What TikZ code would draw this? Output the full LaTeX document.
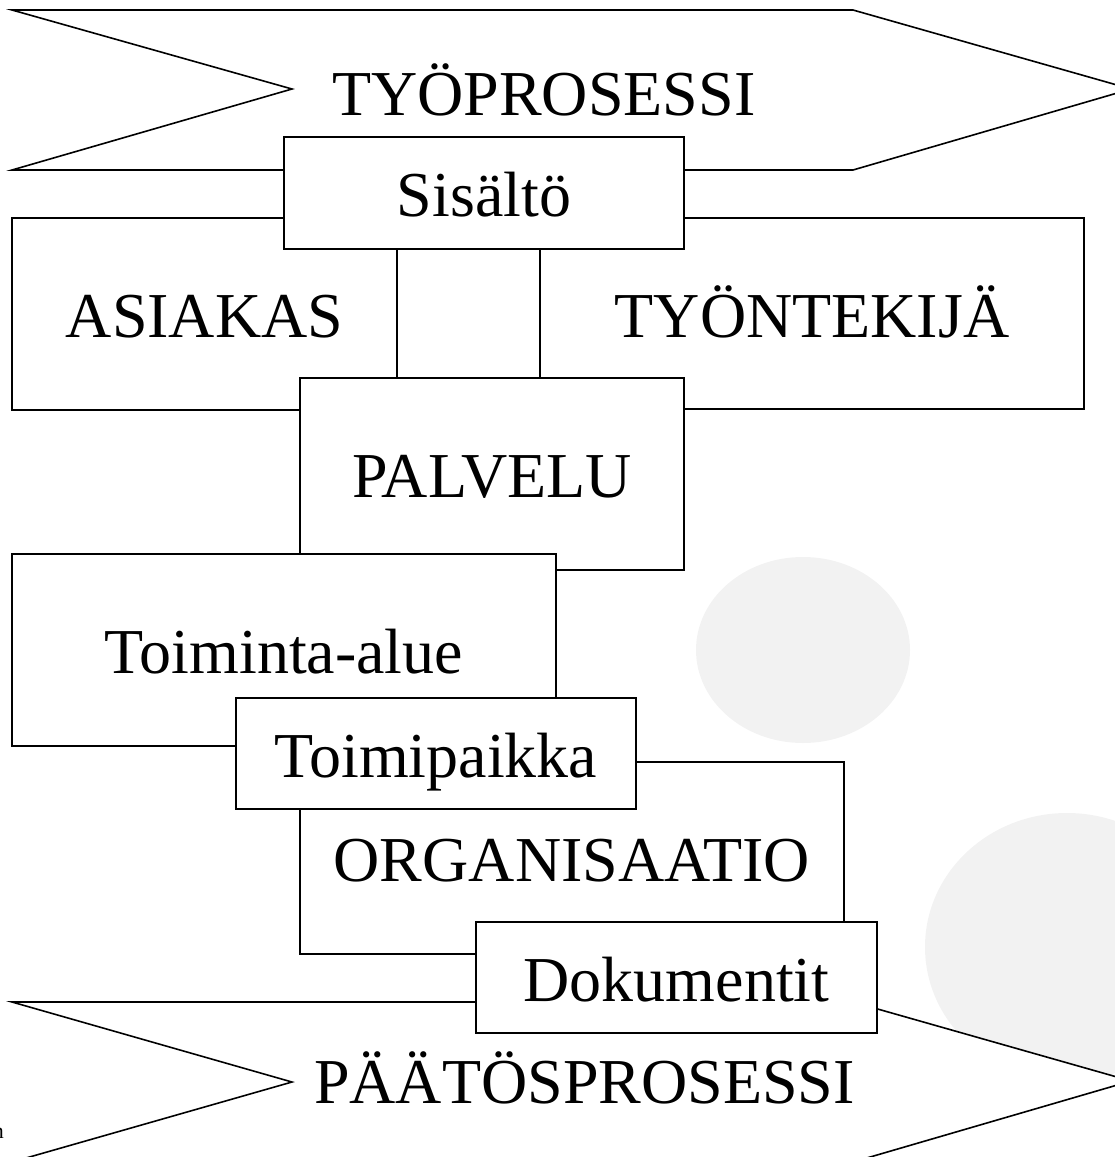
\documentclass[tikz,border=0pt]{standalone}
\usepackage{fontspec}
\setmainfont{Liberation Serif}
\definecolor{bggray}{RGB}{242,242,242}
\tikzset{
  big/.style={font=\fontsize{64}{64}\selectfont},
  boxnode/.style={draw, fill=white, line width=1.6pt, inner sep=0pt, big,
    text height=47pt, text depth=0pt},
  chev/.style={draw, fill=white, line width=1.6pt, line join=miter},
  link/.style={draw, line width=1.2pt},
  blob/.style={fill=bggray, draw=none}
}
\begin{document}
\begin{tikzpicture}[x=1pt,y=-1pt]
\useasboundingbox (0,0) rectangle (1115,1157);
% background discs
\fill[blob] (803,650) ellipse [x radius=107, y radius=93];
\fill[blob] (1067,947) ellipse [x radius=142, y radius=134];
% top chevron
\path[chev] (12,10) -- (853,10) -- (1131,89) -- (853,170) -- (12,170) -- (292,89) -- cycle;
\node[big, anchor=base west, inner sep=0pt] (tp) at (332,115) {TYÖPROSESSI};
% side boxes
\node[boxnode, minimum width=385pt, minimum height=192pt] (asi) at (204.5,314) {ASIAKAS};
\node[boxnode, minimum width=544pt, minimum height=191pt] (tyo) at (812,313.5) {TYÖNTEKIJÄ};
% content box
\node[boxnode, minimum width=400pt, minimum height=112pt] (sis) at (484,193) {Sisältö};
% service box
\node[boxnode, minimum width=384pt, minimum height=192pt] (pal) at (492,474) {PALVELU};
% connectors
\draw[link] (sis.south -| asi.east) -- (pal.north -| asi.east);
\draw[link] (sis.south -| tyo.west) -- (pal.north -| tyo.west);
% lower boxes
\node[boxnode, minimum width=544pt, minimum height=192pt] (toa) at (284,650) {Toiminta-alue};
\node[boxnode, minimum width=544pt, minimum height=192pt] (org) at (572,858) {ORGANISAATIO};
\node[boxnode, minimum width=400pt, minimum height=111pt] (tpk) at (436,753.5) {Toimipaikka};
% bottom chevron
\path[chev] (12,1002) -- (853,1002) -- (1131,1081) -- (853,1162) -- (12,1162) -- (292,1082) -- cycle;
\node[big, anchor=base west, inner sep=0pt] (pp) at (314,1103) {PÄÄTÖSPROSESSI};
\node[boxnode, minimum width=401pt, minimum height=111pt] (dok) at (676.5,977.5) {Dokumentit};
% clipped fragment at left edge
\node[anchor=base east, inner sep=0pt, font=\fontsize{22}{22}\selectfont] (frag) at (4,1138) {n};
\end{tikzpicture}
\end{document}
